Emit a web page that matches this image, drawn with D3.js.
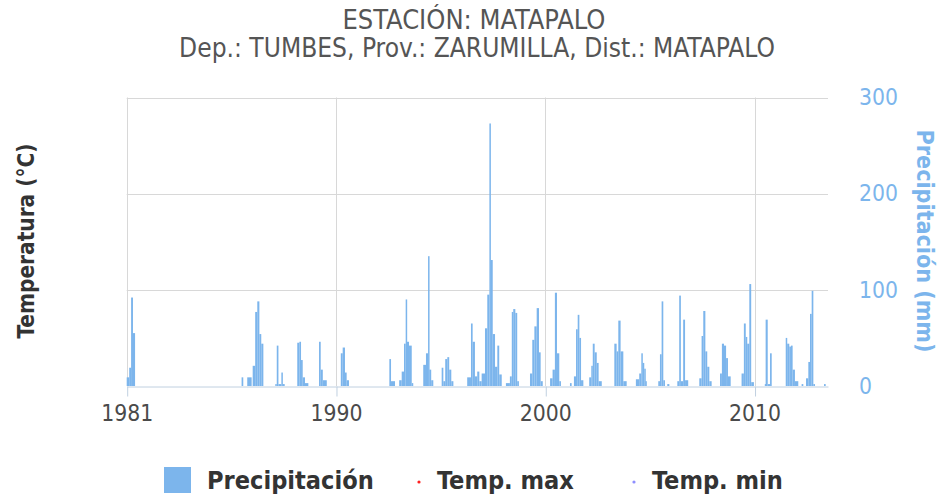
<!DOCTYPE html>
<html><head><meta charset="utf-8">
<script src="https://cdn.jsdelivr.net/npm/d3@7"></script>
<style>
body{margin:0;background:#fff}
svg{display:block}
svg text{font-family:"DejaVu Sans Condensed","DejaVu Sans",Verdana,sans-serif;font-stretch:condensed}
</style>
</head><body>
<svg id="c" width="942" height="495"></svg>
<script>
// ---- data ----
const titleText = "ESTACIÓN: MATAPALO";
const subtitleText = "Dep.: TUMBES, Prov.: ZARUMILLA, Dist.: MATAPALO";
const xTickYears = [1980, 1990, 2000, 2010];
const xTickLabels = ["1981", "1990", "2000", "2010"];
const yTicks = [0, 100, 200, 300];
const leftAxisTitle = "Temperatura (°C)";
const rightAxisTitle = "Precipitación (mm)";
const legendLabels = ["Precipitación", "Temp. max", "Temp. min"];
const tempMax = [];
const tempMin = [];

// precipitation periods (decimal year start / end) and value (mm)
const startYear = [
 1980.00,1980.12,1980.21,1980.30,
 1985.49,1985.76,1986.02,1986.14,1986.24,1986.34,1986.43,
 1987.10,1987.17,1987.25,1987.39,1987.45,
 1988.15,1988.25,1988.33,1988.41,1988.52,
 1989.19,1989.27,1989.37,
 1990.23,1990.32,1990.43,1990.51,
 1992.55,1992.63,
 1993.02,1993.14,1993.25,1993.33,1993.39,1993.49,1993.62,
 1994.17,1994.30,1994.40,1994.46,1994.55,
 1995.05,1995.13,1995.22,1995.32,1995.41,1995.51,
 1996.27,1996.45,1996.53,1996.64,1996.75,1996.85,
 1996.96,1997.12,1997.23,1997.33,1997.38,1997.49,1997.60,1997.71,1997.80,
 1998.12,1998.31,1998.40,1998.47,1998.57,1998.66,
 1999.27,1999.38,1999.48,1999.59,1999.70,1999.78,
 2000.23,2000.35,2000.46,2000.56,2000.67,
 2001.18,2001.37,2001.47,2001.55,2001.63,2001.71,
 2002.10,2002.20,2002.27,2002.36,2002.46,2002.55,
 2003.30,2003.41,2003.49,2003.60,2003.73,
 2004.33,2004.49,2004.59,2004.65,2004.73,2004.78,
 2005.40,2005.48,2005.56,2005.64,2005.83,
 2006.31,2006.40,2006.48,2006.59,2006.68,
 2007.36,2007.47,2007.55,2007.65,2007.74,2007.84,
 2008.35,2008.44,2008.54,2008.64,2008.73,
 2009.38,2009.49,2009.58,2009.65,2009.75,2009.84,
 2010.49,2010.53,2010.63,2010.74,
 2011.49,2011.56,2011.66,2011.74,2011.82,2011.93,2012.25,
 2012.46,2012.57,2012.65,2012.73,2012.81,2013.32
];
const endYear = [
 1980.12,1980.21,1980.30,1980.40,
 1985.57,1985.97,1986.14,1986.24,1986.34,1986.43,1986.53,
 1987.17,1987.25,1987.39,1987.45,1987.55,
 1988.25,1988.33,1988.41,1988.52,1988.68,
 1989.27,1989.37,1989.56,
 1990.32,1990.43,1990.51,1990.62,
 1992.63,1992.82,
 1993.14,1993.25,1993.33,1993.39,1993.49,1993.62,1993.69,
 1994.30,1994.40,1994.46,1994.55,1994.65,
 1995.13,1995.22,1995.32,1995.41,1995.51,1995.61,
 1996.45,1996.53,1996.64,1996.75,1996.85,1996.96,
 1997.12,1997.23,1997.33,1997.38,1997.49,1997.60,1997.71,1997.80,1997.92,
 1998.31,1998.40,1998.47,1998.57,1998.66,1998.74,
 1999.38,1999.48,1999.59,1999.70,1999.78,1999.88,
 2000.35,2000.46,2000.56,2000.67,2000.75,
 2001.26,2001.47,2001.55,2001.63,2001.71,2001.82,
 2002.20,2002.27,2002.36,2002.46,2002.55,2002.70,
 2003.41,2003.49,2003.60,2003.73,2003.89,
 2004.49,2004.59,2004.65,2004.73,2004.78,2004.84,
 2005.48,2005.56,2005.64,2005.72,2005.93,
 2006.40,2006.48,2006.59,2006.68,2006.83,
 2007.47,2007.55,2007.65,2007.74,2007.84,2007.95,
 2008.44,2008.54,2008.64,2008.73,2008.86,
 2009.49,2009.58,2009.65,2009.75,2009.84,2009.97,
 2010.53,2010.63,2010.74,2010.82,
 2011.56,2011.66,2011.74,2011.82,2011.93,2012.09,2012.33,
 2012.57,2012.65,2012.73,2012.81,2012.89,2013.40
];
const precip = [
 9,19,92,55,
 9,9,21,77,88,54,44,
 2,42,2,14,2,
 45,46,27,9,3,
 46,17,6,
 34,40,14,6,
 28,5,
 6,15,44,90,46,42,3,
 22,34,135,17,6,
 19,5,28,30,17,5,
 9,65,46,10,15,5,
 13,60,95,273,131,54,20,42,12,
 3,10,77,80,76,5,
 13,48,62,81,35,5,
 8,17,97,34,5,
 3,10,59,74,50,6,
 9,21,44,35,24,5,
 44,36,68,36,5,
 7,13,34,24,18,5,
 5,33,88,6,2,
 5,94,5,69,6,
 8,52,78,36,20,5,
 13,44,42,29,10,
 13,65,51,44,106,4,
 2,69,2,34,
 50,44,41,42,17,5,2,
 8,25,75,99,2,2
];

// ---- layout ----
const plot = {left: 126.7, right: 828, top: 97.5, bottom: 386};
const svg = d3.select("#c");

const x = d3.scaleLinear().domain([1980, 2013.51]).range([plot.left, plot.right]);
const y = d3.scaleLinear().domain([0, 300]).range([plot.bottom, plot.top]);

function fitSize(sel, target) {
  const fs = parseFloat(sel.style("font-size"));
  const w = sel.node().getComputedTextLength();
  return w > 0 ? fs * target / w : fs;
}
function fit(sel, target) {
  sel.style("font-size", fitSize(sel, target) + "px");
  return sel;
}

// titles
fit(svg.append("text").attr("x", 474).attr("y", 29).attr("text-anchor", "middle")
  .style("font-size", "23px").attr("fill", "#555").text(titleText), 263);
fit(svg.append("text").attr("x", 477).attr("y", 57).attr("text-anchor", "middle")
  .style("font-size", "23px").attr("fill", "#555").text(subtitleText), 596);

// grid
const grid = svg.append("g");
grid.selectAll("line.h").data(yTicks.filter(d => d > 0)).join("line")
  .attr("x1", plot.left).attr("x2", plot.right)
  .attr("y1", d => Math.round(y(d)) + 0.5).attr("y2", d => Math.round(y(d)) + 0.5)
  .attr("stroke", "#d8d8d8").attr("stroke-width", 1);
grid.selectAll("line.v").data(xTickYears).join("line")
  .attr("x1", d => Math.round(x(d)) + 0.5).attr("x2", d => Math.round(x(d)) + 0.5)
  .attr("y1", plot.top).attr("y2", plot.bottom)
  .attr("stroke", "#d8d8d8").attr("stroke-width", 1);

// bars
const bars = startYear.map((s, i) => ({s, e: endYear[i], v: precip[i]}));
svg.append("g").selectAll("rect").data(bars).join("rect")
  .attr("x", d => x(d.s))
  .attr("width", d => Math.max(1.5, x(d.e) - x(d.s)))
  .attr("y", d => y(d.v))
  .attr("height", d => y(0) - y(d.v))
  .attr("fill", "#7cb5ec");

// x axis
const xAxis = svg.append("g").attr("transform", `translate(0,${Math.round(plot.bottom) + 0.5})`)
  .call(d3.axisBottom(x).tickValues(xTickYears).tickFormat((d, i) => xTickLabels[i])
    .tickSize(10).tickSizeOuter(0).tickPadding(8));
xAxis.attr("font-family", null).attr("font-size", null);
xAxis.select(".domain").attr("stroke", "#C0D0E0");
xAxis.selectAll(".tick line").attr("stroke", "#C0D0E0").attr("transform", "translate(0.5,0)");
const xLab = xAxis.selectAll(".tick text").attr("fill", "#4a4a4a").style("font-size", "21px");
const xfs = fitSize(xAxis.selectAll(".tick text").filter((d, i) => i === 3), 52);
xLab.style("font-size", xfs + "px");

// right axis
const yAxis = svg.append("g").attr("transform", `translate(${plot.right},0)`)
  .call(d3.axisRight(y).tickValues(yTicks).tickSize(0).tickPadding(31));
yAxis.attr("font-family", null).attr("font-size", null);
yAxis.select(".domain").remove();
const yLab = yAxis.selectAll(".tick text").attr("fill", "#7cb5ec").style("font-size", "21px");
const yfs = fitSize(yAxis.selectAll(".tick text").filter(d => d === 300), 39);
yLab.style("font-size", yfs + "px");

// axis titles
fit(svg.append("text").attr("transform", "translate(34,241) rotate(-90)")
  .attr("text-anchor", "middle").style("font-size", "20px").style("font-weight", "bold")
  .attr("fill", "#333").text(leftAxisTitle), 195);
fit(svg.append("text").attr("transform", "translate(917,241) rotate(90)")
  .attr("text-anchor", "middle").style("font-size", "20px").style("font-weight", "bold")
  .attr("fill", "#7cb5ec").text(rightAxisTitle), 223);

// legend
const lg = svg.append("g");
lg.append("rect").attr("x", 164).attr("y", 467).attr("width", 27).attr("height", 26).attr("fill", "#7cb5ec");
const legX = [207, 437, 652];
const legW = [153, 141, 138];
const legTexts = legendLabels.map((t, i) => lg.append("text").attr("x", legX[i]).attr("y", 489)
  .style("font-size", "21px").style("font-weight", "bold").attr("fill", "#333").text(t));
const legFs = d3.mean(legTexts.map((s, i) => fitSize(s, legW[i])));
legTexts.forEach(s => s.style("font-size", legFs + "px"));
lg.append("circle").attr("cx", 419).attr("cy", 482).attr("r", 1.6).attr("fill", "#ff2020");
lg.append("circle").attr("cx", 634).attr("cy", 482).attr("r", 1.6).attr("fill", "#8f8fff");
</script>
</body></html>
